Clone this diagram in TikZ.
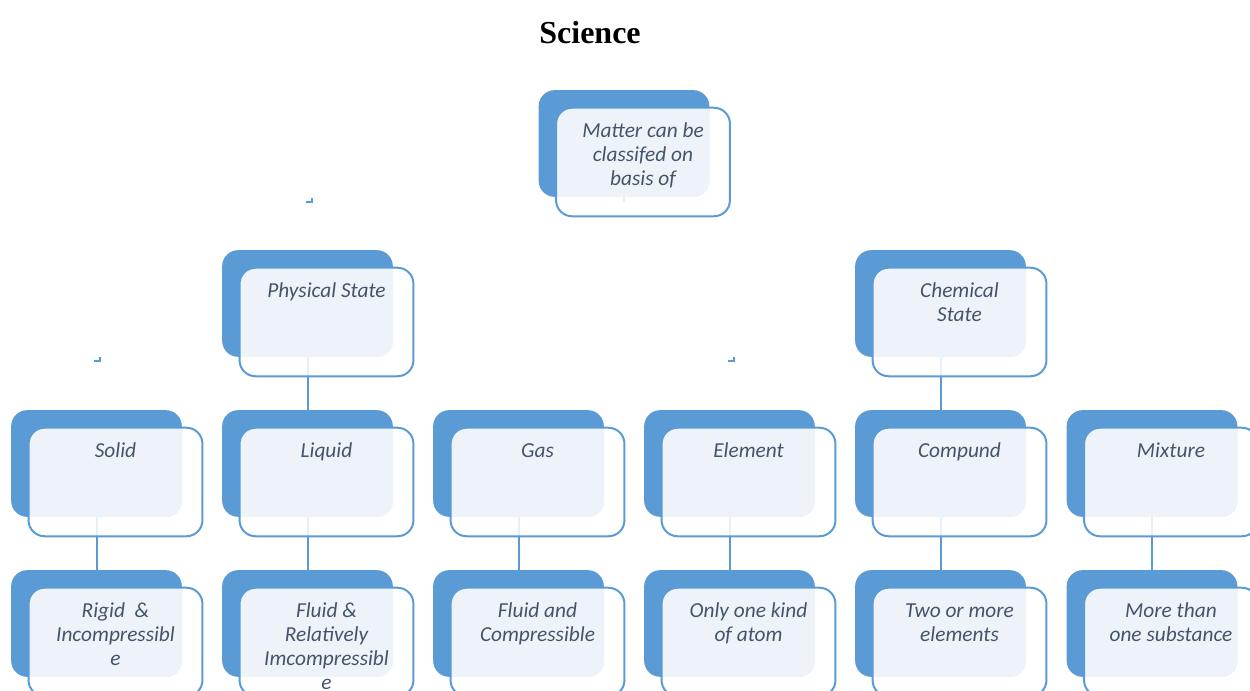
\documentclass[tikz,border=0pt]{standalone}
\usepackage{fontspec}
\setmainfont{Carlito}
\newfontfamily\titlefont{Liberation Serif}
\definecolor{cardblue}{HTML}{5B9BD5}
\definecolor{cardlight}{HTML}{EEF3FA}
\definecolor{cardtext}{HTML}{44546A}
\begin{document}
\begin{tikzpicture}[x=0.75pt, y=-0.75pt,
	backbox/.style={rectangle, rounded corners=12pt, fill=cardblue, minimum width=128pt, minimum height=80pt, inner sep=0pt},
	frontbox/.style={rectangle, rounded corners=12pt, fill=white, fill opacity=0.85, minimum width=130pt, minimum height=81pt, inner sep=0pt},
	link/.style={draw=cardblue, line width=1.5pt},
	cardlabel/.style={anchor=north, align=center, inner sep=0pt, text=cardtext, font=\fontsize{16}{18}\selectfont\itshape}]
	\path[use as bounding box, clip] (0,0) rectangle (1250,691);
	%%%	Titolo
	\node (title) at (590,33) {\titlefont\fontsize{24}{28}\selectfont\bfseries Science};
	%%%	Riquadri
	\foreach \nm/\x/\y in {matter/624/143.5, phys/307.5/303.5, chem/940.5/303.5,
		solid/96.5/463.5, liquid/307.5/463.5, gas/518.5/463.5, elem/729.5/463.5, comp/940.5/463.5, mix/1152/463.5,
		rigid/96.5/623.5, fluid/307.5/623.5, fluidc/518.5/623.5, atom/729.5/623.5, two/940.5/623.5, more/1152/623.5}
	\node[backbox] (\nm) at (\x,\y) {};
	% Collegamenti
	\foreach \a/\b in {phys/liquid, chem/comp, solid/rigid, liquid/fluid, gas/fluidc, elem/atom, comp/two, mix/more}
	\draw[link] (\a) -- (\b);
	\draw[link] (matter.south) -- ++(0,5);
	\coordinate (ka) at (306,202);
	\coordinate (kb) at (94,361);
	\coordinate (kc) at (728,361);
	\draw[link] (ka) -| ++(6,-4);
	\draw[link] (kb) -| ++(6,-4);
	\draw[link] (kc) -| ++(6,-4);
	% Riquadri davanti
	\foreach \nm in {matter, phys, chem, solid, liquid, gas, elem, comp, mix, rigid, fluid, fluidc, atom, two, more}
	{
		\node[frontbox] (\nm f) at ([shift={(19,18.5)}]\nm) {};
		\begin{scope}
			\clip[rounded corners=12pt] (\nm.south west) rectangle (\nm.north east);
			\fill[cardlight, rounded corners=12pt] (\nm f.south west) rectangle (\nm f.north east);
		\end{scope}
		\draw[cardblue, line width=1.5pt, rounded corners=12pt] (\nm f.south west) rectangle (\nm f.north east);
	}
	%%%	Testi
	\node[cardlabel] (mattert) at ([shift={(0,13)}]matterf.north) {\strut Matter can be\\classifed on\\basis of};
	\node[cardlabel] (physt) at ([shift={(0,13)}]physf.north) {\strut Physical State};
	\node[cardlabel] (chemt) at ([shift={(0,13)}]chemf.north) {\strut Chemical\\State};
	\node[cardlabel] (solidt) at ([shift={(0,13)}]solidf.north) {\strut Solid};
	\node[cardlabel] (liquidt) at ([shift={(0,13)}]liquidf.north) {\strut Liquid};
	\node[cardlabel] (gast) at ([shift={(0,13)}]gasf.north) {\strut Gas};
	\node[cardlabel] (elemt) at ([shift={(0,13)}]elemf.north) {\strut Element};
	\node[cardlabel] (compt) at ([shift={(0,13)}]compf.north) {\strut Compund};
	\node[cardlabel] (mixt) at ([shift={(0,13)}]mixf.north) {\strut Mixture};
	\node[cardlabel] (rigidt) at ([shift={(0,13)}]rigidf.north) {\strut Rigid~ \&\\Incompressibl\\e};
	\node[cardlabel] (fluidt) at ([shift={(0,13)}]fluidf.north) {\strut Fluid \&\\Relatively\\Imcompressibl\\e};
	\node[cardlabel] (fluidct) at ([shift={(0,13)}]fluidcf.north) {\strut Fluid and\\Compressible};
	\node[cardlabel] (atomt) at ([shift={(0,13)}]atomf.north) {\strut Only one kind\\of atom};
	\node[cardlabel] (twot) at ([shift={(0,13)}]twof.north) {\strut Two or more\\elements};
	\node[cardlabel] (moret) at ([shift={(0,13)}]moref.north) {\strut More than\\one substance};
\end{tikzpicture}
\end{document}
